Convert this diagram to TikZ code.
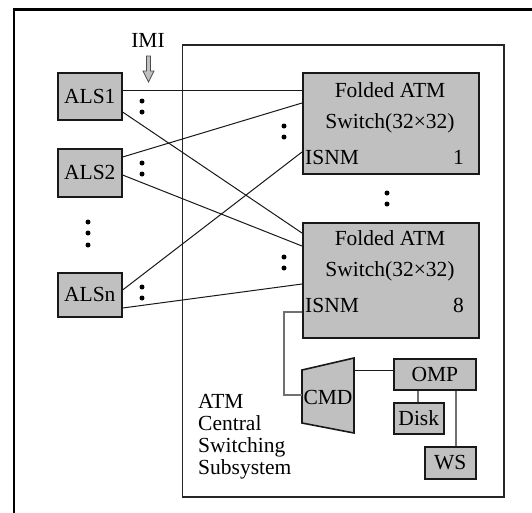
\documentclass[tikz,border=0pt]{standalone}
\usepackage{fontspec}
\setmainfont{Liberation Serif}
\begin{document}
\begin{tikzpicture}[x=1pt,y=-1pt,
  every node/.style={font=\fontsize{21.5}{22}\selectfont},
  box/.style={draw=black!90, line width=1.6pt, fill=boxgray, inner sep=0pt, anchor=north west},
  wire/.style={draw=black!90, line width=1pt},
  greywire/.style={draw=wiregray, line width=1.3pt},
  txt/.style={inner sep=0pt},
  swtxt/.style={inner sep=0pt, align=center, font=\fontsize{21.5}{31}\selectfont},
  dotmark/.style={circle, fill=black, inner sep=0pt, minimum size=5pt}]
\definecolor{boxgray}{HTML}{C0C0C0}
\definecolor{wiregray}{HTML}{707070}
\useasboundingbox (0,0) rectangle (532,512);
\fill[white] (0,0) rectangle (532,512);

% outer frame (top and left edges)
\draw[line width=3pt] (13,9.5) -- (540,9.5);
\draw[line width=2.4pt] (13.8,8) -- (13.8,520);

% central switching subsystem frame
\draw[line width=1.5pt, draw=black!85] (182.5,45) rectangle (504,497);
\node[txt, anchor=north west, align=left, font=\fontsize{21.5}{22}\selectfont] (csslabel) at (198,394) {ATM\\Central\\Switching\\Subsystem};

% access line switches
\node[box, minimum width=64pt, minimum height=47pt] (als1) at (57,72) {ALS1};
\node[box, minimum width=64pt, minimum height=48pt] (als2) at (57,148) {ALS2};
\node[box, minimum width=64pt, minimum height=44pt] (alsn) at (57,272) {ALSn};

% folded ATM switches
\node[box, minimum width=176pt, minimum height=101pt] (sw1) at (302,72) {};
\node[swtxt] (sw1t) at (390,108) {Folded ATM\\Switch(32×32)};
\node[txt, anchor=west] (sw1i) at (305,157) {ISNM};
\node[txt, anchor=east] (sw1n) at (464,157) {1};

\node[box, minimum width=176pt, minimum height=115pt] (sw2) at (302,222) {};
\node[swtxt] (sw2t) at (390,256) {Folded ATM\\Switch(32×32)};
\node[txt, anchor=west] (sw2i) at (305,305) {ISNM};
\node[txt, anchor=east] (sw2n) at (464,305) {8};

% CMD, OMP and peripherals
\draw[line width=1.6pt, draw=black!90, fill=boxgray] (302,370) -- (354,358) -- (354,433) -- (302,423) -- cycle;
\node[txt] (cmd) at (328,397) {CMD};
\coordinate (cmdL) at (302,395);
\coordinate (cmdR) at (354,370);
\node[box, minimum width=82pt, minimum height=31pt] (omp) at (393,358) {OMP};
\node[box, minimum width=50pt, minimum height=31pt] (disk) at (393,402) {Disk};
\node[box, minimum width=51pt, minimum height=32pt] (ws) at (424,446) {WS};

% IMI marker
\node[txt] (imi) at (148,40) {IMI};
\draw[draw=black!70, fill=boxgray, line width=0.8pt]
  (146.5,56) -- (150.5,56) -- (150.5,71) -- (154,71) -- (148.5,82) -- (143,71) -- (146.5,71) -- cycle;

% links between ALSs and switches
\draw[wire] (als1.east |- 0,90)  -- (sw1.west |- 0,90);
\draw[wire] (als1.east |- 0,112) -- (sw2.west |- 0,233);
\draw[wire] (als2.east |- 0,157) -- (sw1.west |- 0,103);
\draw[wire] (als2.east |- 0,175) -- (sw2.west |- 0,246);
\draw[wire] (alsn.east |- 0,290) -- (sw1.west |- 0,152);
\draw[wire] (alsn.east |- 0,308) -- (sw2.west |- 0,284);

% management links
\draw[greywire] (sw2.west |- 0,312) -- (284,312) -- (284,395) -- (cmdL);
\draw[wire] (cmdR) -- (omp.west |- cmdR);
\draw[greywire] (omp.south -| 418,0) -- (disk.north -| 418,0);
\draw[greywire] (omp.south -| 456,0) -- (ws.north -| 456,0);

% continuation dots
\foreach \n/\x/\y in {a/142/101, b/142/112, c/142/163, d/142/174, e/142/287, f/142/298,
                      g/88/222, h/88/233, i/88/245,
                      j/284/126, k/284/137, l/284/257, m/284/268,
                      o/387/193, p/387/204}
  \node[dotmark] (dot\n) at (\x,\y) {};
\end{tikzpicture}
\end{document}
